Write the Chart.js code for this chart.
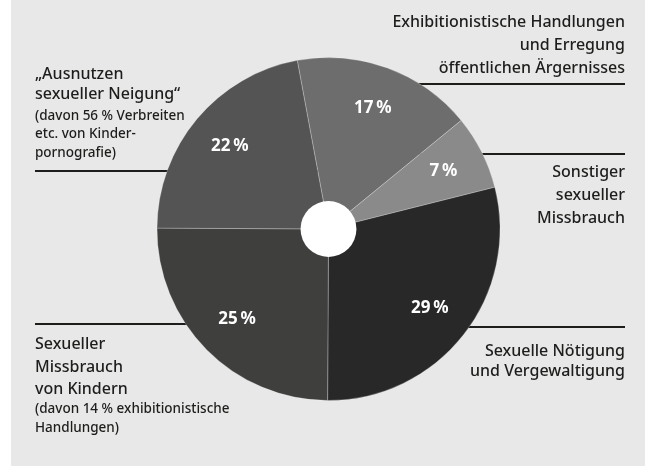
<!DOCTYPE html>
<html lang="de">
<head>
<meta charset="UTF-8">
<title>Sexualdelikte – Anteile</title>
<script src="https://cdn.jsdelivr.net/npm/chart.js"></script>
<style>
  html, body {
    margin: 0;
    padding: 0;
    background: linear-gradient(to right, #ffffff 11px, #e8e8e8 11px);
  }
  canvas { display: block; }
</style>
</head>
<body>
<canvas id="pie" width="645" height="466"></canvas>
<script>
// data, clockwise from the top
const shares = [17, 7, 29, 25, 22];
const shareLabels = ['17\u202F%', '7\u202F%', '29\u202F%', '25\u202F%', '22\u202F%'];
const categoryMain = [
  ['Exhibitionistische Handlungen', 'und Erregung', 'öffentlichen Ärgernisses'],
  ['Sonstiger', 'sexueller', 'Missbrauch'],
  ['Sexuelle Nötigung', 'und Vergewaltigung'],
  ['Sexueller', 'Missbrauch', 'von Kindern'],
  ['„Ausnutzen', 'sexueller Neigung“']
];
const categoryNote = [
  [],
  [],
  [],
  ['(davon 14 % exhibitionistische', 'Handlungen)'],
  ['(davon 56 % Verbreiten', 'etc. von Kinder-', 'pornografie)']
];

const sliceColors = ['#6d6d6d', '#8a8a8a', '#282828', '#3f3f3e', '#545454'];
const textColor = '#1d1d1b';
const font = '"Noto Sans", "Open Sans", sans-serif';

// where each callout sits: text anchor, baselines, rule height
const callouts = [
  { x: 625, align: 'right', base: [27, 50, 73], rule: 84 },
  { x: 625, align: 'right', base: [177, 200, 223], rule: 154 },
  { x: 625, align: 'right', base: [356, 376], rule: 327 },
  { x: 35, align: 'left', base: [349, 372, 394, 413, 432], rule: 324 },
  { x: 35, align: 'left', base: [79, 99, 120, 138, 157], rule: 171 }
];

const calloutPlugin = {
  id: 'callouts',
  beforeDatasetsDraw(chart) {
    const ctx = chart.ctx;
    const arc = chart.getDatasetMeta(0).data[0];
    ctx.save();
    ctx.strokeStyle = textColor;
    ctx.lineWidth = 1.8;
    callouts.forEach(c => {
      ctx.beginPath();
      ctx.moveTo(c.x, c.rule);
      ctx.lineTo(arc.x, c.rule);
      ctx.stroke();
    });
    ctx.fillStyle = textColor;
    ctx.textBaseline = 'alphabetic';
    callouts.forEach((c, i) => {
      ctx.textAlign = c.align;
      const lines = categoryMain[i].map(t => [t, 16]).concat(categoryNote[i].map(t => [t, 13.5]));
      lines.forEach(([t, size], j) => {
        ctx.font = '500 ' + size + 'px ' + font;
        ctx.fillText(t, c.x, c.base[j]);
      });
    });
    ctx.restore();
  },
  afterDatasetsDraw(chart) {
    const ctx = chart.ctx;
    const meta = chart.getDatasetMeta(0);
    const first = meta.data[0];
    ctx.save();
    // white hub
    ctx.fillStyle = '#ffffff';
    ctx.beginPath();
    ctx.arc(first.x, first.y, first.outerRadius * 0.163, 0, Math.PI * 2);
    ctx.fill();
    // percent labels
    ctx.fillStyle = '#ffffff';
    ctx.font = 'bold 17px ' + font;
    ctx.textAlign = 'center';
    ctx.textBaseline = 'middle';
    meta.data.forEach((a, i) => {
      const mid = (a.startAngle + a.endAngle) / 2;
      const r = a.outerRadius * 0.75;
      ctx.fillText(shareLabels[i], a.x + Math.cos(mid) * r, a.y + Math.sin(mid) * r);
    });
    ctx.restore();
  }
};

new Chart(document.getElementById('pie'), {
  type: 'pie',
  data: {
    labels: categoryMain.map(l => l.join(' ')),
    datasets: [{
      data: shares,
      backgroundColor: sliceColors,
      borderColor: 'rgba(255,255,255,0.25)',
      borderWidth: 1
    }]
  },
  options: {
    responsive: false,
    animation: false,
    devicePixelRatio: 1,
    rotation: -10.5,
    layout: { padding: { top: 57, bottom: 65, left: 156, right: 144 } },
    plugins: {
      legend: { display: false },
      tooltip: { enabled: false }
    }
  },
  plugins: [calloutPlugin]
});
</script>
</body>
</html>
